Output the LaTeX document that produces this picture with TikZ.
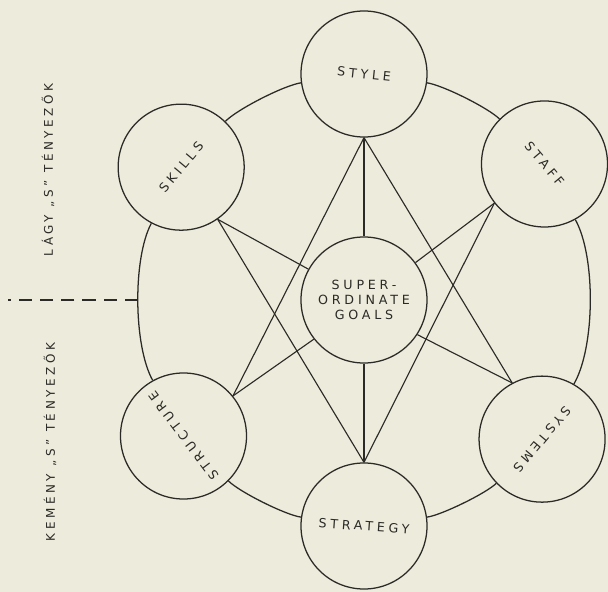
\documentclass[tikz,border=0pt]{standalone}
\usepackage{fontspec}
\newfontfamily\handfont[LetterSpace=30]{DejaVu Sans}
\newfontfamily\sidefont[LetterSpace=30]{DejaVu Sans}
\usetikzlibrary{positioning,calc}
\definecolor{paper}{HTML}{EDEBDB}
\definecolor{ink}{HTML}{2B2A26}

\begin{document}
\begin{tikzpicture}[
    x=0.025cm, y=0.025cm,
    font=\handfont\fontsize{9}{10.6}\selectfont,
    sbox/.style={circle, draw=ink, line width=0.9pt, minimum size=3.15cm, inner sep=0pt,
                 align=center, text=ink},
    link/.style={draw=ink, line width=0.8pt},
    ring/.style={draw=ink, line width=0.9pt},
    divider/.style={draw=ink, line width=1.1pt, dash pattern=on 0.33cm off 0.2cm},
    side/.style={rotate=90, text=ink, font=\sidefont\fontsize{8.5}{9}\selectfont},
]
  \fill[paper] (0,0) rectangle (608,592);
  \useasboundingbox (0,0) rectangle (608,592);
  %% centre and the six S round it
  \node[sbox] (goals) at (364,292) {SUPER-\\ORDINATE\\GOALS};
  \node[sbox] (style) at ($(goals)+(90:226)$) {\rotatebox[origin=c]{-6}{STYLE}};
  \node[sbox] (staff) at ($(goals)+(37:226)$) {\rotatebox[origin=c]{-50}{STAFF}};
  \node[sbox] (systems) at ($(goals)+(-38:226)$) {\rotatebox[origin=c]{-130}{SYSTEMS}};
  \node[sbox] (strategy) at ($(goals)+(-90:226)$) {\rotatebox[origin=c]{-4}{STRATEGY}};
  \node[sbox] (structure) at ($(goals)+(217:226)$) {\rotatebox[origin=c]{127}{STRUCTURE}};
  \node[sbox] (skills) at ($(goals)+(144:226)$) {\rotatebox[origin=c]{50}{SKILLS}};
  %% outer ring
  \draw[ring] (style) to[bend left=18.5, looseness=0.49] (staff);
  \draw[ring] (staff) to[bend left=29.5, looseness=0.66] (systems);
  \draw[ring] (systems) to[bend left=18, looseness=0.48] (strategy);
  \draw[ring] (strategy) to[bend left=18.5, looseness=0.49] (structure);
  \draw[ring] (structure) to[bend left=28.5, looseness=0.645] (skills);
  \draw[ring] (skills) to[bend left=19, looseness=0.5] (style);
  %% inner links
  \draw[link] (style.-90) -- (goals.90);
  \draw[link] (style.-90) -- (structure.39);
  \draw[link] (style.-90) -- (systems.118);
  \draw[link] (skills.-55) -- (goals.151);
  \draw[link] (skills.-55) -- (strategy.90);
  \draw[link] (staff.218) -- (goals.36);
  \draw[link] (staff.218) -- (strategy.90);
  \draw[link] (goals.218) -- (structure.39);
  \draw[link] (goals.-33) -- (systems.118);
  \draw[link] (goals.-90) -- (strategy.90);
  %% soft / hard split
  \coordinate (ringwest) at ($(goals)+(180:226)$);
  \draw[divider] (ringwest) -- ++(-130,0);
  \node[side] (soft) at (48,422) {LÁGY „S” TÉNYEZŐK};
  \node[side] (hard) at (50,150) {KEMÉNY „S” TÉNYEZŐK};
\end{tikzpicture}
\end{document}
